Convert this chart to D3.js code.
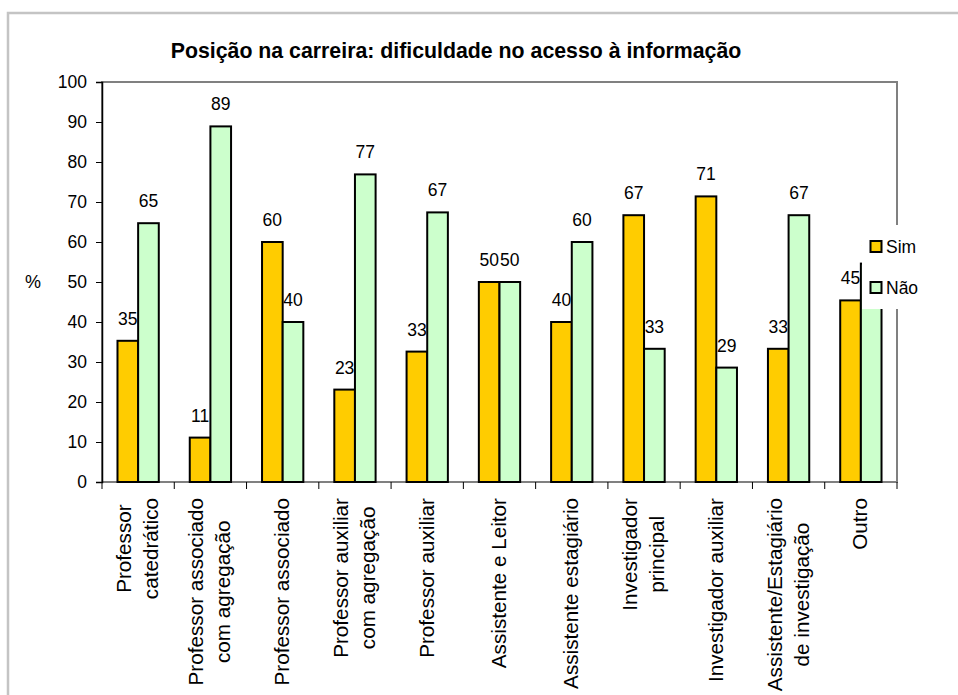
<!DOCTYPE html>
<html>
<head>
<meta charset="utf-8">
<script src="https://cdn.jsdelivr.net/npm/d3@7"></script>
<style>
  body { margin: 0; background: #fff; }
  text { font-family: "Liberation Sans", Arial, sans-serif; fill: #000; }
</style>
</head>
<body>
<div id="chart"></div>
<script>
'use strict';

const categories = [
    ['Professor', 'catedrático'],
    ['Professor associado', 'com agregação'],
    ['Professor associado'],
    ['Professor auxiliar', 'com agregação'],
    ['Professor auxiliar'],
    ['Assistente e Leitor'],
    ['Assistente estagiário'],
    ['Investigador', 'principal'],
    ['Investigador auxiliar'],
    ['Assistente/Estagiário', 'de investigação'],
    ['Outro']
];
const series = ['Sim', 'Não'];
const simValues = [35.3, 11.1, 60, 23.1, 32.6, 50, 40, 66.7, 71.4, 33.3, 45.4];
const naoValues = [64.7, 88.9, 40, 76.9, 67.4, 50, 60, 33.3, 28.6, 66.7, 54.6];
const yTicks = [0, 10, 20, 30, 40, 50, 60, 70, 80, 90, 100];
const colors = ['#ffcc00', '#ccffcc'];

const width = 958, height = 695;
const plot = {left: 102, right: 897, top: 82, bottom: 482};

const svg = d3.select('#chart').append('svg')
    .attr('width', width)
    .attr('height', height);

// outer frame (only top/left visible)
svg.append('rect')
    .attr('x', 8).attr('y', 13)
    .attr('width', width + 20).attr('height', height + 20)
    .attr('fill', 'none')
    .attr('stroke', '#c4c4c4')
    .attr('stroke-width', 2.5);

const x0 = d3.scaleBand()
    .domain(d3.range(categories.length))
    .range([plot.left, plot.right])
    .paddingInner(1.5 / 3.5)
    .paddingOuter(0.75 / 3.5);

const x1 = d3.scaleBand()
    .domain(series)
    .range([0, x0.bandwidth()]);

const y = d3.scaleLinear()
    .domain([0, 100])
    .range([plot.bottom, plot.top]);

const color = d3.scaleOrdinal(series, colors);

const rows = categories.map((c, i) => ({i: i, values: [
    {key: 'Sim', value: simValues[i]},
    {key: 'Não', value: naoValues[i]}
]}));

// plot area border
svg.append('rect')
    .attr('x', plot.left).attr('y', plot.top)
    .attr('width', plot.right - plot.left)
    .attr('height', plot.bottom - plot.top)
    .attr('fill', 'none')
    .attr('stroke', '#808080')
    .attr('stroke-width', 2);

// title
svg.append('text')
    .attr('x', 456)
    .attr('y', 58)
    .attr('text-anchor', 'middle')
    .style('font-size', '21.3px')
    .style('font-weight', 'bold')
    .text('Posição na carreira: dificuldade no acesso à informação');

// bars
const groups = svg.selectAll('.group')
    .data(rows)
    .enter().append('g')
    .attr('class', 'group')
    .attr('transform', (d) => 'translate(' + x0(d.i) + ',0)');

groups.selectAll('rect')
    .data((d) => d.values)
    .enter().append('rect')
    .attr('x', (d) => x1(d.key))
    .attr('y', (d) => y(d.value))
    .attr('width', x1.bandwidth())
    .attr('height', (d) => y(0) - y(d.value))
    .attr('fill', (d) => color(d.key))
    .attr('stroke', '#000')
    .attr('stroke-width', 2);

groups.selectAll('.label')
    .data((d) => d.values)
    .enter().append('text')
    .attr('class', 'label')
    .attr('x', (d) => x1(d.key) + x1.bandwidth() / 2)
    .attr('y', (d) => y(d.value) - 16)
    .attr('text-anchor', 'middle')
    .style('font-size', '17.5px')
    .text((d) => Math.round(d.value));

// y axis
const yAxis = svg.append('g')
    .attr('transform', 'translate(' + plot.left + ',0)')
    .call(d3.axisLeft(y).tickValues(yTicks).tickSizeOuter(0).tickSize(6).tickPadding(9));
yAxis.select('.domain').attr('stroke', '#000').attr('stroke-width', 1.5);
yAxis.selectAll('.tick line').attr('stroke', '#000');
yAxis.selectAll('.tick text')
    .style('font-family', '"Liberation Sans", Arial, sans-serif')
    .style('font-size', '17.5px')
    .attr('fill', '#000');

svg.append('text')
    .attr('x', 33)
    .attr('y', 288)
    .attr('text-anchor', 'middle')
    .style('font-size', '18px')
    .text('%');

// x axis ticks at category boundaries
svg.selectAll('.xtick')
    .data(d3.range(categories.length + 1))
    .enter().append('line')
    .attr('class', 'xtick')
    .attr('x1', (d) => plot.left + d * x0.step())
    .attr('x2', (d) => plot.left + d * x0.step())
    .attr('y1', plot.bottom)
    .attr('y2', plot.bottom + 7)
    .attr('stroke', '#000')
    .attr('stroke-width', 1);

// category labels, rotated, lines centred on the longest one
const lineGap = 27;
categories.forEach((lines, i) => {
    const cx = x0(i) + x0.bandwidth() / 2;
    const g = svg.append('g');
    const texts = lines.map((ln, j) => {
        const base = cx + 6.5 + (j - (lines.length - 1) / 2) * lineGap;
        return g.append('text')
            .attr('transform', 'translate(' + base + ',498) rotate(-90)')
            .attr('text-anchor', 'middle')
            .style('font-size', '20.7px')
            .text(ln);
    });
    const maxLen = d3.max(texts, (t) => t.node().getComputedTextLength());
    texts.forEach((t, j) => {
        const base = cx + 6.5 + (j - (lines.length - 1) / 2) * lineGap;
        t.attr('transform', 'translate(' + base + ',' + (498 + maxLen / 2) + ') rotate(-90)');
    });
});

// legend (white box sitting over the last bars)
const legend = svg.append('g');
legend.append('rect')
    .attr('x', 862).attr('y', 225)
    .attr('width', 100).attr('height', 84)
    .attr('fill', '#fff');

series.forEach((s, i) => {
    const yy = 241 + i * 41;
    legend.append('rect')
        .attr('x', 870.5).attr('y', yy)
        .attr('width', 11).attr('height', 11)
        .attr('fill', color(s))
        .attr('stroke', '#000')
        .attr('stroke-width', 2);
    legend.append('text')
        .attr('x', 886)
        .attr('y', yy + 12)
        .style('font-size', '17.5px')
        .text(s);
});
</script>
</body>
</html>
